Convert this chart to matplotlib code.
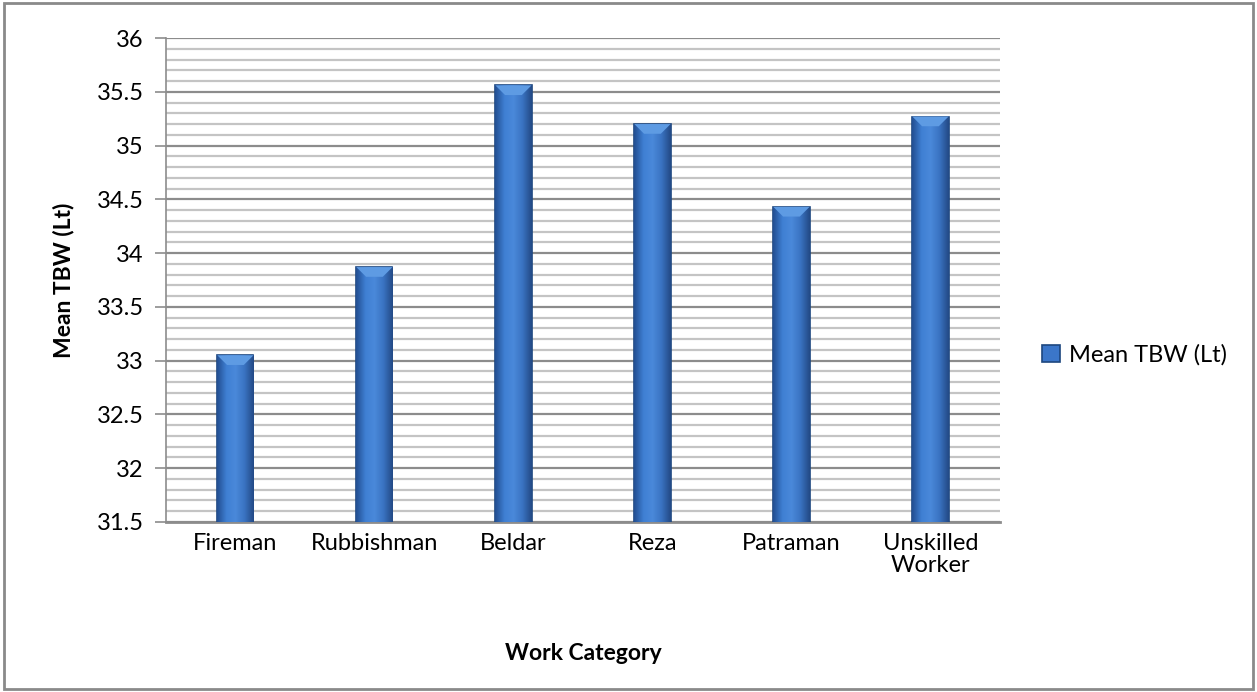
import numpy as np
import matplotlib.pyplot as plt
from matplotlib.colors import LinearSegmentedColormap
from matplotlib.patches import Rectangle, Polygon

categories = ["Fireman", "Rubbishman", "Beldar", "Reza", "Patraman", "Unskilled\nWorker"]
mean_tbw = [33.05, 33.87, 35.56, 35.20, 34.43, 35.27]
series_name = "Mean TBW (Lt)"

plt.rcParams['font.family'] = ['Lato', 'DejaVu Sans']

fig = plt.figure(figsize=(12.57, 6.92), dpi=100)
ax = fig.add_axes([0.132, 0.2457, 0.6635, 0.6993])

x = np.arange(len(categories))
bw = 0.26
bars = ax.bar(x, mean_tbw, width=bw, color='#3b76c9',
              edgecolor='#1d477f', linewidth=1.2, zorder=3, label=series_name)

# horizontal gradient inside each bar, a bit like the excel bevel
cmap = LinearSegmentedColormap.from_list('bev', ['#234f92', '#3f7fd3', '#4a89da', '#3a73c2', '#234a86'])
grad = np.linspace(0, 1, 64).reshape(1, -1)
for b in bars:
    x0, w, h = b.get_x(), b.get_width(), b.get_height()
    im = ax.imshow(grad, cmap=cmap, aspect='auto', extent=(x0, x0 + w, 31.5, h),
                   zorder=3.5, interpolation='bicubic')
    im.set_clip_path(b)
    # bevel at the top
    dh, dx = 0.09, 0.07
    ax.add_patch(Polygon([(x0, h), (x0 + w, h), (x0 + w - dx, h - dh), (x0 + dx, h - dh)],
                         closed=True, facecolor='#5e9be3', edgecolor='none', zorder=3.6))

ax.set_xlim(-0.5, len(categories) - 0.5)
ax.set_ylim(31.5, 36)
ax.set_yticks(np.arange(31.5, 36.01, 0.5))
ax.set_yticklabels(['31.5', '32', '32.5', '33', '33.5', '34', '34.5', '35', '35.5', '36'])
ax.set_yticks(np.arange(31.5, 36.01, 0.1), minor=True)
ax.grid(axis='y', which='major', color='#8c8c8c', linewidth=1.6, zorder=0)
ax.grid(axis='y', which='minor', color='#c4c4c4', linewidth=1.6, zorder=0)
ax.set_axisbelow(True)

ax.set_xticks(x)
ax.set_xticklabels(categories, fontsize=17, linespacing=1.05)
ax.tick_params(axis='x', length=0, pad=8)
ax.tick_params(axis='y', which='major', labelsize=17, length=8, width=1.2, color='#8c8c8c', pad=8)
ax.tick_params(axis='y', which='minor', length=0)

for s in ['top', 'right']:
    ax.spines[s].set_visible(False)
ax.spines['left'].set_color('#8c8c8c')
ax.spines['left'].set_linewidth(1.2)
ax.spines['bottom'].set_color('#8c8c8c')
ax.spines['bottom'].set_linewidth(2)

ax.set_ylabel(series_name, fontsize=16.5, fontweight='bold', labelpad=16)
ax.set_xlabel("Work Category", fontsize=16.5, fontweight='bold', labelpad=48)

leg = ax.legend(loc='center left', bbox_to_anchor=(1.025, 0.345), frameon=False,
                fontsize=17, handlelength=0.75, handleheight=0.75, handletextpad=0.4)

# outer chart border
fig.patches.append(Rectangle((0.003, 0.004), 0.994, 0.992, transform=fig.transFigure,
                             fill=False, edgecolor='#8a8a8a', linewidth=2))

fig.savefig('out.png', dpi=100)
